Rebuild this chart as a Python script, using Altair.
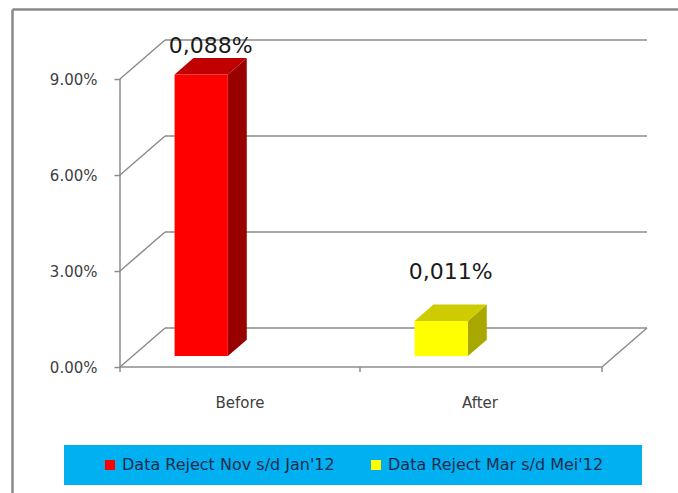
import altair as alt
import pandas as pd

# ---------------- data ----------------
categories = ["Before", "After"]
series = ["Data Reject Nov s/d Jan'12", "Data Reject Mar  s/d Mei'12"]
values = [0.088, 0.011]
value_labels = ["0,088%", "0,011%"]
y_ticks = [0.0, 0.03, 0.06, 0.09]

# ---------------- style ----------------
front_colors = ["#FF0000", "#FFFF00"]
top_colors = ["#C00000", "#CCCC00"]
side_colors = ["#990000", "#A8A800"]
GRID_COLOR = "#8c8c8c"
FRAME_COLOR = "#8a8a8a"
FONT = "DejaVu Sans"

PX_X = 240.0      # pixels per category band
PX_Y = 3200.0     # pixels per unit of value (1.0 = 100%)
DX = 45 / PX_X    # depth offset of the 3D box, x
DY = 39 / PX_Y    # depth offset of the 3D box, y
FW = 482 / PX_X   # floor width in bands
F0, F1 = 0.28, 0.70          # bar depth (fraction of floor depth)
BAR_L, BAR_R = 0.175, 0.397  # bar position inside its band
TICK = 5 / PX_Y
LABEL_LIFT_PX = {"Before": 20, "After": 41}
X_DOM = [-108 / PX_X, 558 / PX_X]
Y_DOM = [-126 / PX_Y, 358 / PX_Y]

# ---------------- geometry built from the data ----------------
line_rows = []


def seg(name, pts):
    for k, (x, y) in enumerate(pts):
        line_rows.append({"seg": name, "k": k, "x": x, "y": y})


for g in y_ticks:
    seg(f"side{g}", [(0, g), (DX, g + DY)])
    seg(f"back{g}", [(DX, g + DY), (FW + DX, g + DY)])
seg("floor_front", [(0, 0), (FW, 0)])
seg("floor_right", [(FW, 0), (FW + DX, DY)])
seg("yaxis", [(0, 0), (0, max(y_ticks))])
for i, t in enumerate([0, 1, FW]):
    seg(f"xtick{i}", [(t, 0), (t, -TICK)])
lines = pd.DataFrame(line_rows)

front_rows, side_rows, top_rows, lab_rows, cat_rows = [], [], [], [], []
for i, (cat, ser, v, lab) in enumerate(zip(categories, series, values, value_labels)):
    xl = i + BAR_L + F0 * DX
    xr = i + BAR_R + F0 * DX
    ddx = (F1 - F0) * DX
    front_rows.append({"cat": cat, "series": ser, "x": xl, "x2": xr,
                       "y": F0 * DY, "y2": v + F0 * DY})
    side_rows += [
        {"bar": cat, "fill": side_colors[i], "x": xr, "y": v + F0 * DY, "y2": F0 * DY},
        {"bar": cat, "fill": side_colors[i], "x": xr + ddx, "y": v + F1 * DY, "y2": F1 * DY},
    ]
    top_rows += [
        {"bar": cat, "fill": top_colors[i], "y": v + F0 * DY, "x": xl, "x2": xr},
        {"bar": cat, "fill": top_colors[i], "y": v + F1 * DY, "x": xl + ddx, "x2": xr + ddx},
    ]
    lab_rows.append({"label": lab,
                     "x": i + (BAR_L + BAR_R) / 2 + 0.5 * (F0 + F1) * DX,
                     "y": v + 0.5 * (F0 + F1) * DY + LABEL_LIFT_PX[cat] / PX_Y})
    cat_rows.append({"cat": cat, "x": i + 0.5, "y": 0.0})

front = pd.DataFrame(front_rows)
side = pd.DataFrame(side_rows)
top = pd.DataFrame(top_rows)
labs = pd.DataFrame(lab_rows)
cats = pd.DataFrame(cat_rows)

# ---------------- scales / axes ----------------
xs = alt.Scale(domain=X_DOM, nice=False, zero=False)
ys = alt.Scale(domain=Y_DOM, nice=False, zero=False)
X_AXIS = alt.Axis(orient="top", domain=True, domainColor=FRAME_COLOR, domainWidth=2.5,
                  ticks=False, labels=False, grid=False)


def X(field="x"):
    return alt.X(f"{field}:Q", scale=xs, axis=X_AXIS, title=None)


frame_y_axis = alt.Axis(orient="left", domain=True, domainColor=FRAME_COLOR, domainWidth=2.5,
                        ticks=False, labels=False, grid=False)
value_y_axis = alt.Axis(orient="left", offset=-108, values=y_ticks, format=".2%",
                        domain=False, ticks=True, tickSize=6, tickColor=GRID_COLOR,
                        tickWidth=1.5, labelPadding=17, labelFont=FONT, labelFontSize=15,
                        labelColor="#404040", grid=False)

grid_layer = alt.Chart(lines).mark_line(color=GRID_COLOR, strokeWidth=1.5).encode(
    x=X(),
    y=alt.Y("y:Q", scale=ys, axis=frame_y_axis, title=None),
    detail="seg:N",
    order=alt.Order("k:Q"),
)

side_layer = alt.Chart(side).mark_area(orient="vertical").encode(
    x=X(),
    y=alt.Y("y:Q", scale=ys, axis=None),
    y2="y2:Q",
    detail="bar:N",
    fill=alt.Fill("fill:N", scale=None),
)

top_layer = alt.Chart(top).mark_area(orient="horizontal").encode(
    y=alt.Y("y:Q", scale=ys, axis=None),
    x=X(),
    x2="x2:Q",
    detail="bar:N",
    fill=alt.Fill("fill:N", scale=None),
)

front_layer = alt.Chart(front).mark_rect().encode(
    x=X(),
    x2="x2:Q",
    y=alt.Y("y:Q", scale=ys, axis=value_y_axis, title=None),
    y2="y2:Q",
    color=alt.Color(
        "series:N",
        scale=alt.Scale(domain=series, range=front_colors),
        legend=alt.Legend(
            orient="none", legendX=52, legendY=436, direction="horizontal",
            fillColor="#00B0F0", padding=12, symbolType="square", symbolSize=100,
            symbolStrokeWidth=0, symbolOffset=26, labelOffset=4, columnPadding=7,
            labelLimit=500,
            labelFont=FONT, labelFontSize=16, labelColor="#1a2c4e",
            title="\u00a0", titleOrient="right", titlePadding=22, titleFontSize=16,
        ),
    ),
)

label_layer = alt.Chart(labs).mark_text(
    font=FONT, fontSize=22, color="#1a1a1a", baseline="middle", align="center"
).encode(
    x=X(),
    y=alt.Y("y:Q", scale=ys, axis=None),
    text="label:N",
)

cat_layer = alt.Chart(cats).mark_text(
    font=FONT, fontSize=15, color="#404040", baseline="middle", align="center", dy=36
).encode(
    x=X(),
    y=alt.Y("y:Q", scale=ys, axis=None),
    text="cat:N",
)

chart = (
    alt.layer(grid_layer, side_layer, top_layer, front_layer, label_layer, cat_layer)
    .resolve_axis(y="independent")
    .properties(
        width=666,
        height=484,
        autosize=alt.AutoSizeParams(type="none"),
        padding={"left": 12, "top": 9, "right": 0, "bottom": 0},
        background="white",
    )
    .configure_view(stroke=None)
)

chart.save("out.html", embed_options={"renderer": "svg", "actions": False})
